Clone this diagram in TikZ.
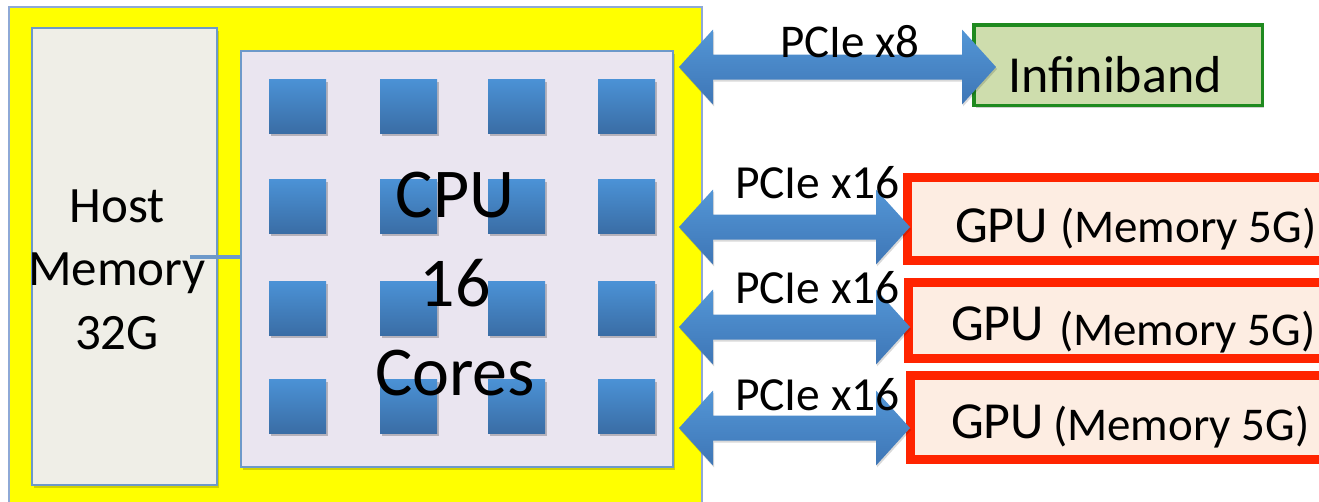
\documentclass[tikz,border=0pt]{standalone}
\usepackage{fontspec}
\setmainfont{Carlito}
\usetikzlibrary{calc,shadows}

\definecolor{boardyellow}{HTML}{FFFF00}
\definecolor{boardedge}{HTML}{8EA9D6}
\definecolor{panelblue}{HTML}{6D99CA}
\definecolor{hostfill}{HTML}{EFEEE7}
\definecolor{cpufill}{HTML}{EAE5F0}
\definecolor{coretop}{HTML}{4B92D6}
\definecolor{corebot}{HTML}{3A6DA5}
\definecolor{arrowtop}{HTML}{5396D6}
\definecolor{arrowbot}{HTML}{3E76B6}
\definecolor{ibfill}{HTML}{CEDDAD}
\definecolor{ibedge}{HTML}{1F8A1F}
\definecolor{gpufill}{HTML}{FDEDE2}
\definecolor{gpuedge}{HTML}{FF2400}

% double-headed block arrow between two points on the same level
\newcommand\busarrow[2]{%
  \path[bus] (#1) -- ($(#1)+(34,-37.5)$) -- ($(#1)+(34,-12.5)$)
    -- ($(#2)+(-34,-12.5)$) -- ($(#2)+(-34,-37.5)$) -- (#2)
    -- ($(#2)+(-34,37.5)$) -- ($(#2)+(-34,12.5)$)
    -- ($(#1)+(34,12.5)$) -- ($(#1)+(34,37.5)$) -- cycle;}

\begin{document}
\begin{tikzpicture}[x=1pt,y=-1pt,
  panel/.style={rectangle,draw=panelblue,line width=1.5pt,inner sep=0pt,outer sep=0pt},
  softshadow/.style={drop shadow={shadow xshift=2pt,shadow yshift=-3pt,opacity=0.18,fill=black}},
  core/.style={rectangle,minimum width=57pt,minimum height=54pt,inner sep=0pt,
    top color=coretop,bottom color=corebot,
    drop shadow={shadow xshift=1.5pt,shadow yshift=-2.5pt,opacity=0.22,fill=black}},
  bus/.style={top color=arrowtop,bottom color=arrowbot,
    drop shadow={shadow xshift=1pt,shadow yshift=-2pt,opacity=0.15,fill=black}},
  txt/.style={inner sep=0pt,outer sep=0pt,text=black},
  ibbox/.style={rectangle,draw=ibedge,fill=ibfill,line width=3.5pt,inner sep=0pt,softshadow},
  gpubox/.style={rectangle,draw=gpuedge,fill=gpufill,line width=9pt,inner sep=0pt,softshadow},
]
\useasboundingbox (0,0) rectangle (1319,501);
\clip (0,0) rectangle (1319,501);
\fill[white] (0,0) rectangle (1319,501);

% compute node board
\node[rectangle,draw=boardedge,line width=1.2pt,fill=boardyellow,inner sep=0pt,
  minimum width=693pt,minimum height=513pt] (board) at (355.5,263.5) {};

% host memory and CPU panels
\node[panel,fill=hostfill,softshadow,minimum width=185pt,minimum height=457pt] (host) at (124.5,256.5) {};
\node[panel,fill=cpufill,softshadow,minimum width=432pt,minimum height=416pt] (cpu) at (457,259) {};

% 4 x 4 grid of cores
\foreach \cx [count=\i] in {297.5,408.5,516.5,626.5}
  \foreach \cy [count=\j] in {106,206.5,308.5,406}
    \node[core] (core\i\j) at (\cx,\cy) {};

% multi-line labels: the base anchor sits on the last line
\node[txt,font=\fontsize{70}{89}\selectfont,align=center,anchor=base] (cputxt) at (455,395) {CPU\\16\\Cores};
\node[txt,font=\fontsize{51}{63.5}\selectfont,align=center,anchor=base] (hosttxt) at (117,349) {Host\\Memory\\32G};

% memory bus
\coordinate (hm) at (190,257);
\draw[panelblue,line width=3.5pt] (hm) -- (hm -| cpu.west);

% peripheral devices
\node[ibbox,minimum width=288.5pt,minimum height=80.5pt] (ib) at (1118,65) {};
\node[gpubox,minimum width=432.5pt,minimum height=83pt] (gpu1) at (1123.75,219) {};
\node[gpubox,minimum width=431.5pt,minimum height=76pt] (gpu2) at (1124.25,320.5) {};
\node[gpubox,minimum width=429.5pt,minimum height=84pt] (gpu3) at (1125.25,417.5) {};

% PCIe links
\coordinate (ibA) at (679,67);   \coordinate (ibB) at (996,67);
\coordinate (g1A) at (679,227);  \coordinate (g1B) at (910,227);
\coordinate (g2A) at (679,327);  \coordinate (g2B) at (910,327);
\coordinate (g3A) at (679,428);  \coordinate (g3B) at (910,428);
\busarrow{ibA}{ibB}
\busarrow{g1A}{g1B}
\busarrow{g2A}{g2B}
\busarrow{g3A}{g3B}

% device labels
\node[txt,font=\fontsize{52}{62}\selectfont,anchor=base] (ibtxt) at (1115,92) {Infiniband};
\foreach \n/\gx/\gy/\mx/\my in {1/955/242/1060/242, 2/951/340/1059/345, 3/951/438/1053/440}{
  \node[txt,font=\fontsize{52}{62}\selectfont,anchor=base west] (gpuname\n) at (\gx,\gy) {GPU};
  \node[txt,font=\fontsize{47}{56}\selectfont,anchor=base west] (gpumem\n) at (\mx,\my) {(Memory 5G)};
}

% link labels
\node[txt,font=\fontsize{47}{56}\selectfont,anchor=base west] (l8) at (780,57) {PCIe x8};
\foreach \n/\ly in {1/198,2/303,3/410}
  \node[txt,font=\fontsize{47.5}{57}\selectfont,anchor=base west] (l16\n) at (735,\ly) {PCIe x16};
\end{tikzpicture}
\end{document}
